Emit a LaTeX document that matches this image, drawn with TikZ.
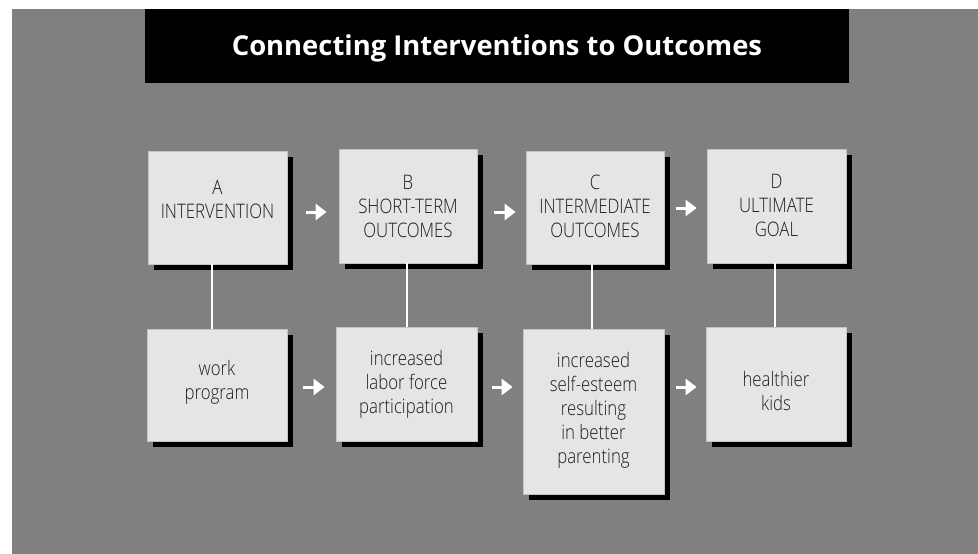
\documentclass[tikz,border=0pt]{standalone}
\usepackage{fontspec}
\setmainfont{Open Sans}
\newfontfamily\boxfont{Open Sans Light}[FakeStretch=0.84]
\usetikzlibrary{arrows.meta,shadows,calc}
\definecolor{bg}{HTML}{808080}
\definecolor{boxgray}{HTML}{E5E5E5}
\definecolor{boxedge}{HTML}{C4C4C4}
\definecolor{textcol}{HTML}{1C1C1C}
\tikzset{
  card/.style={fill=boxgray, draw=boxedge, line width=0.8pt, inner sep=0pt,
    drop shadow={shadow xshift=6pt, shadow yshift=-6pt, opacity=1, fill=black}},
  cardtext/.style={font=\boxfont\fontsize{20}{24}\selectfont, text=textcol, align=center, inner sep=0pt},
  warrow/.style={draw=white, line width=3pt, -{Triangle[length=11pt,width=16pt]}},
  link/.style={draw=white, line width=1.2pt}
}
\begin{document}
\begin{tikzpicture}[x=1pt,y=-1pt]
\useasboundingbox (0,0) rectangle (978,554);
\fill[white] (0,0) rectangle (978,554);
\fill[bg] (12,9) rectangle (978,554);
\node[fill=black, minimum width=704pt, minimum height=74pt, inner sep=0pt,
  text height=23pt, text depth=5pt,
  text=white, font=\bfseries\fontsize{27.4}{32}\selectfont] (title) at (497,46)
  {Connecting Interventions to Outcomes};

% top row
\node[card, minimum width=139pt, minimum height=113pt] (ta) at (217.5,207.5) {};
\node[card, minimum width=138pt, minimum height=114pt] (tb) at (408,206) {};
\node[card, minimum width=138pt, minimum height=113pt] (tc) at (595,207.5) {};
\node[card, minimum width=139pt, minimum height=114pt] (td) at (776.5,206) {};
% bottom row
\node[card, minimum width=140pt, minimum height=112pt] (ba) at (217,385) {};
\node[card, minimum width=141pt, minimum height=114pt] (bb) at (406.5,384) {};
\node[card, minimum width=141pt, minimum height=165pt] (bc) at (593.5,411.5) {};
\node[card, minimum width=140pt, minimum height=114pt] (bd) at (776,384) {};

% texts
\node[cardtext] (tat) at (217.5,199) {A\\INTERVENTION};
\node[cardtext] (tbt) at (408,206.5) {B\\SHORT-TERM\\OUTCOMES};
\node[cardtext] (tct) at (595,206) {C\\INTERMEDIATE\\OUTCOMES};
\node[cardtext] (tdt) at (776.5,205.5) {D\\ULTIMATE\\GOAL};
\node[cardtext] (bat) at (217,382.5) {work\\program};
\node[cardtext] (bbt) at (406.5,384) {increased\\labor force\\participation};
\node[cardtext] (bct) at (593.5,410.5) {increased\\self-esteem\\resulting\\in better\\parenting};
\node[cardtext] (bdt) at (776,391) {healthier\\kids};

% vertical links
\draw[link] ([xshift=-5.5pt]ta.south) -- ([xshift=-5pt]ba.north);
\draw[link] ([xshift=-1pt]tb.south) -- ([xshift=0.5pt]bb.north);
\draw[link] ([xshift=-3pt]tc.south) -- ([xshift=-1.5pt]bc.north);
\draw[link] ([xshift=-1.5pt]td.south) -- ([xshift=-1pt]bd.north);

% arrows top
\draw[warrow, shorten <=19pt, shorten >=12pt] ([yshift=-4.5pt]ta.east) -- ([yshift=-4.5pt]ta.east -| tb.west);
\draw[warrow, shorten <=17pt, shorten >=10pt] ([yshift=-6pt]tb.east) -- ([yshift=-6pt]tb.east -| tc.west);
\draw[warrow, shorten <=12pt, shorten >=10pt] ([yshift=-0.5pt]tc.east) -- ([yshift=-0.5pt]tc.east -| td.west);
% arrows bottom
\draw[warrow, shorten <=16pt, shorten >=11pt] ([yshift=-2pt]ba.east) -- ([yshift=-2pt]ba.east -| bb.west);
\draw[warrow, shorten <=15pt, shorten >=10pt] ([yshift=-3pt]bb.east) -- ([yshift=-3pt]bb.east -| bc.west);
\draw[warrow, shorten <=12pt, shorten >=9pt] ([yshift=24.5pt]bc.east) -- ([yshift=24.5pt]bc.east -| bd.west);
\end{tikzpicture}
\end{document}
